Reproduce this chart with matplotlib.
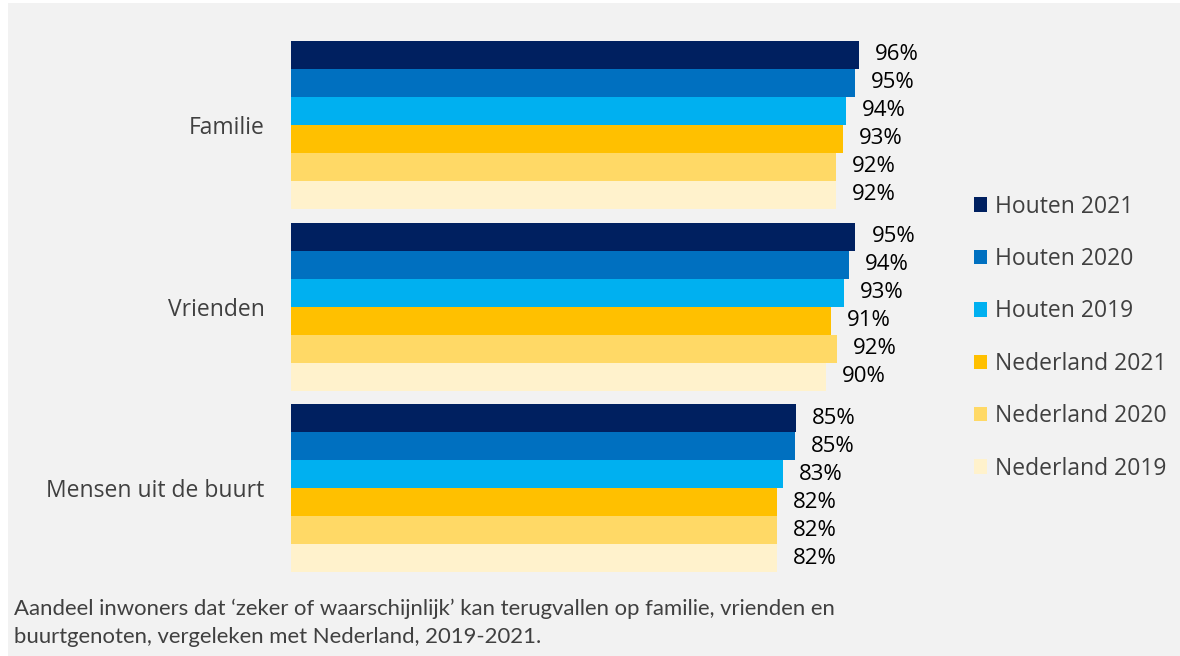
import matplotlib
matplotlib.use("Agg")
import matplotlib.pyplot as plt
from matplotlib.patches import Patch, Rectangle
import numpy as np

categories = ["Familie", "Vrienden", "Mensen uit de buurt"]
series_names = ["Houten 2021", "Houten 2020", "Houten 2019",
                "Nederland 2021", "Nederland 2020", "Nederland 2019"]
houten_2021 = [96.0, 95.4, 85.4]
houten_2020 = [95.3, 94.3, 85.2]
houten_2019 = [93.8, 93.4, 83.2]
nederland_2021 = [93.3, 91.3, 82.1]
nederland_2020 = [92.1, 92.3, 82.1]
nederland_2019 = [92.1, 90.4, 82.1]
series_values = [houten_2021, houten_2020, houten_2019,
                 nederland_2021, nederland_2020, nederland_2019]
colors = ["#002060", "#0070C0", "#00B0F0", "#FFC000", "#FFD966", "#FFF2CC"]
caption = ("Aandeel inwoners dat \u2018zeker of waarschijnlijk\u2019 kan terugvallen op familie, vrienden en\n"
           "buurtgenoten, vergeleken met Nederland, 2019-2021.")

W, H = 1180, 656
fig = plt.figure(figsize=(W / 100, H / 100), dpi=100)
fig.patch.set_facecolor("white")
fig.patches.append(Rectangle((8 / W, 0), 1 - 8 / W, 1 - 3 / H, transform=fig.transFigure,
                             facecolor="#F2F2F2", edgecolor="none", zorder=-10))

main_font = ["Open Sans", "DejaVu Sans"]

ax = fig.add_axes([291 / W, 1 - 578.75 / H, 591.7 / W, 544.5 / H])
ax.set_facecolor("none")
n = len(series_values)
h = 28 / 181.5
y = np.arange(len(categories))
for i, (vals, col) in enumerate(zip(series_values, colors)):
    offs = (i - (n - 1) / 2) * h
    bars = ax.barh(y + offs, vals, height=h, color=col, edgecolor="none")
    for b, v in zip(bars, vals):
        ax.annotate(f"{v:.0f}%", (b.get_width(), b.get_y() + b.get_height() / 2),
                    xytext=(16, 0), textcoords="offset pixels", ha="left", va="center",
                    fontsize=16, color="black", family=main_font)

ax.set_xlim(0, 100)
ax.set_ylim(2.5, -0.5)
ax.set_yticks(y)
ax.set_yticklabels(categories, fontsize=16.5, color="#404040", family=main_font)
ax.tick_params(axis="y", length=0, pad=19)
ax.set_xticks([])
for s in ax.spines.values():
    s.set_visible(False)

handles = [Patch(facecolor=c, edgecolor="none") for c in colors]
leg = fig.legend(handles, series_names, loc="upper left",
                 bbox_to_anchor=(953 / W, 1 - 174 / H), frameon=False,
                 handlelength=0.6, handleheight=0.6, handletextpad=0.35,
                 labelspacing=1.24, prop={"family": main_font, "size": 16.5})
for t in leg.get_texts():
    t.set_color("#404040")

fig.text(14 / W, 1 - 599 / H, caption, ha="left", va="top", fontsize=15.9,
         color="#404040", family=["Lato", "DejaVu Sans"], linespacing=1.45)

fig.savefig("out.png", dpi=100, facecolor=fig.get_facecolor())
